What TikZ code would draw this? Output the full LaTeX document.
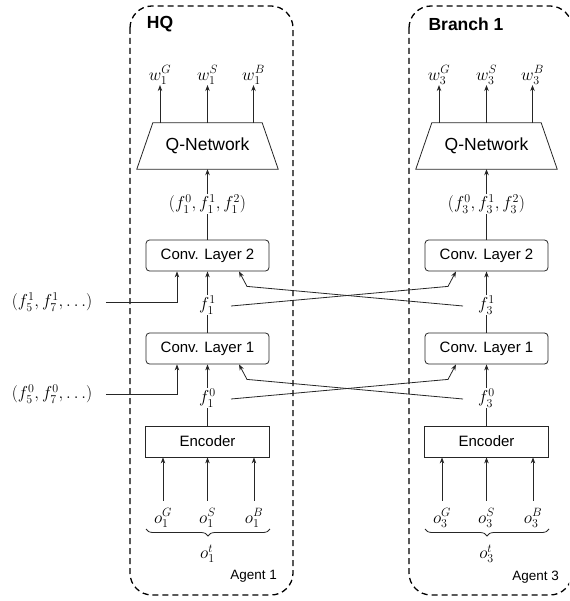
\documentclass[tikz,border=0pt]{standalone}
\usepackage{fontspec}
\setsansfont{Liberation Sans}
\usetikzlibrary{arrows.meta,shapes.geometric,decorations.pathreplacing,calc}
\begin{document}
\begin{tikzpicture}[x=1pt,y=-1pt,
  ln/.style={line width=0.8pt,draw=black!85},
  arr/.style={ln,-{Stealth[length=6pt,width=4.5pt]}},
  blk/.style={ln,rounded corners=3.5pt,minimum width=123pt,minimum height=31pt,inner sep=0pt,font=\sffamily\fontsize{15}{18}\selectfont},
  encb/.style={ln,minimum width=124pt,minimum height=31pt,inner sep=0pt,font=\sffamily\fontsize{15}{18}\selectfont},
  qnet/.style={minimum width=141pt,minimum height=46pt,inner sep=0pt,font=\sffamily\fontsize{17.5}{20}\selectfont},
  lab/.style={inner sep=0.5pt,font=\fontsize{17}{20}\selectfont},
  titl/.style={inner sep=0pt,font=\sffamily\bfseries\fontsize{17.5}{20}\selectfont},
  agl/.style={inner sep=0pt,font=\sffamily\fontsize{13.5}{16}\selectfont},
  agentbox/.style={line width=1.3pt,dash pattern=on 6pt off 4pt,rounded corners=22pt},
  brc/.style={ln,decorate,decoration={brace,mirror,amplitude=7pt}}
]
\useasboundingbox (0,0) rectangle (569,601);
\clip (0,0) rectangle (569,601);
% agent boxes
\draw[agentbox] (130,6) rectangle (293,595);
\draw[agentbox] (409,6) rectangle (572,595);
\node[titl] (hq) at (160,24) {HQ};
\node[titl] (br1) at (466,24) {Branch 1};
\node[agl,anchor=east] (ag1) at (277,576) {Agent 1};
\node[agl,anchor=east] (ag3) at (559,577) {Agent 3};
% agent columns
\foreach \cx/\i/\s in {207.5/1/L,486.5/3/R}{
  \node[lab] (wG\s) at (\cx-47.5,75) {$w_\i^G$};
  \node[lab] (wS\s) at (\cx,75) {$w_\i^S$};
  \node[lab] (wB\s) at (\cx+46,75) {$w_\i^B$};
  \node[qnet] (q\s) at (\cx,146) {Q-Network};
  \draw[ln] (q\s.south west) -- ([xshift=16pt]q\s.north west) -- ([xshift=-16pt]q\s.north east) -- (q\s.south east) -- cycle;
  \node[lab] (ft\s) at (\cx,204) {$(f_\i^0,f_\i^1,f_\i^2)$};
  \node[blk,draw] (c2\s) at (\cx,255.5) {Conv. Layer 2};
  \node[lab] (fa\s) at (\cx,305) {$f_\i^1$};
  \node[blk,draw] (c1\s) at (\cx,348.5) {Conv. Layer 1};
  \node[lab] (fb\s) at (\cx,398) {$f_\i^0$};
  \node[encb,draw] (e\s) at (\cx,441.5) {Encoder};
  \node[lab] (oG\s) at (\cx-44.5,518) {$o_\i^G$};
  \node[lab] (oS\s) at (\cx,518) {$o_\i^S$};
  \node[lab] (oB\s) at (\cx+46.5,518) {$o_\i^B$};
  \coordinate (bl\s) at (\cx-61.5,529);
  \coordinate (bR\s) at (\cx+62.5,529);
  \draw[brc] (bl\s) -- (bR\s);
  \node[lab] (ot\s) at (\cx,554) {$o_\i^t$};
  % connectors
  \draw[arr] (wG\s |- q\s.north) -- (wG\s);
  \draw[arr] (wS\s |- q\s.north) -- (wS\s);
  \draw[arr] (wB\s |- q\s.north) -- (wB\s);
  \draw[arr] (ft\s) -- (q\s.south);
  \draw[ln] (c2\s) -- (ft\s);
  \draw[arr] (fa\s) -- (c2\s);
  \draw[ln] (c1\s) -- (fa\s);
  \draw[arr] (fb\s) -- (c1\s);
  \draw[ln] (e\s) -- (fb\s);
  \draw[arr,shorten <=7pt] (oG\s.north) -- (oG\s |- e\s.south);
  \draw[arr,shorten <=7pt] (oS\s.north) -- (oS\s |- e\s.south);
  \draw[arr,shorten <=7pt] (oB\s.north) -- (oB\s |- e\s.south);
}
% external inputs
\node[lab] (i1) at (52,302) {$(f_5^1,f_7^1,\ldots)$};
\node[lab] (i0) at (52,394) {$(f_5^0,f_7^0,\ldots)$};
\draw[arr,shorten <=13pt] (i1.east) -| ([xshift=-30.5pt]c2L.south);
\draw[arr,shorten <=13pt] (i0.east) -| ([xshift=-30.5pt]c1L.south);
% cross connections
\draw[arr] ([xshift=23.5pt,yshift=-1pt]faL.center) -- ([xshift=-38.5pt,yshift=-15pt]c2R.south) -- ([xshift=-30.5pt]c2R.south);
\draw[arr] ([xshift=-23.5pt,yshift=-1pt]faR.center) -- ([xshift=39.5pt,yshift=-15pt]c2L.south) -- ([xshift=31.5pt]c2L.south);
\draw[arr] ([xshift=23.5pt,yshift=-1pt]fbL.center) -- ([xshift=-38.5pt,yshift=-15pt]c1R.south) -- ([xshift=-30.5pt]c1R.south);
\draw[arr] ([xshift=-23.5pt,yshift=-1pt]fbR.center) -- ([xshift=39.5pt,yshift=-15pt]c1L.south) -- ([xshift=31.5pt]c1L.south);
\end{tikzpicture}
\end{document}
